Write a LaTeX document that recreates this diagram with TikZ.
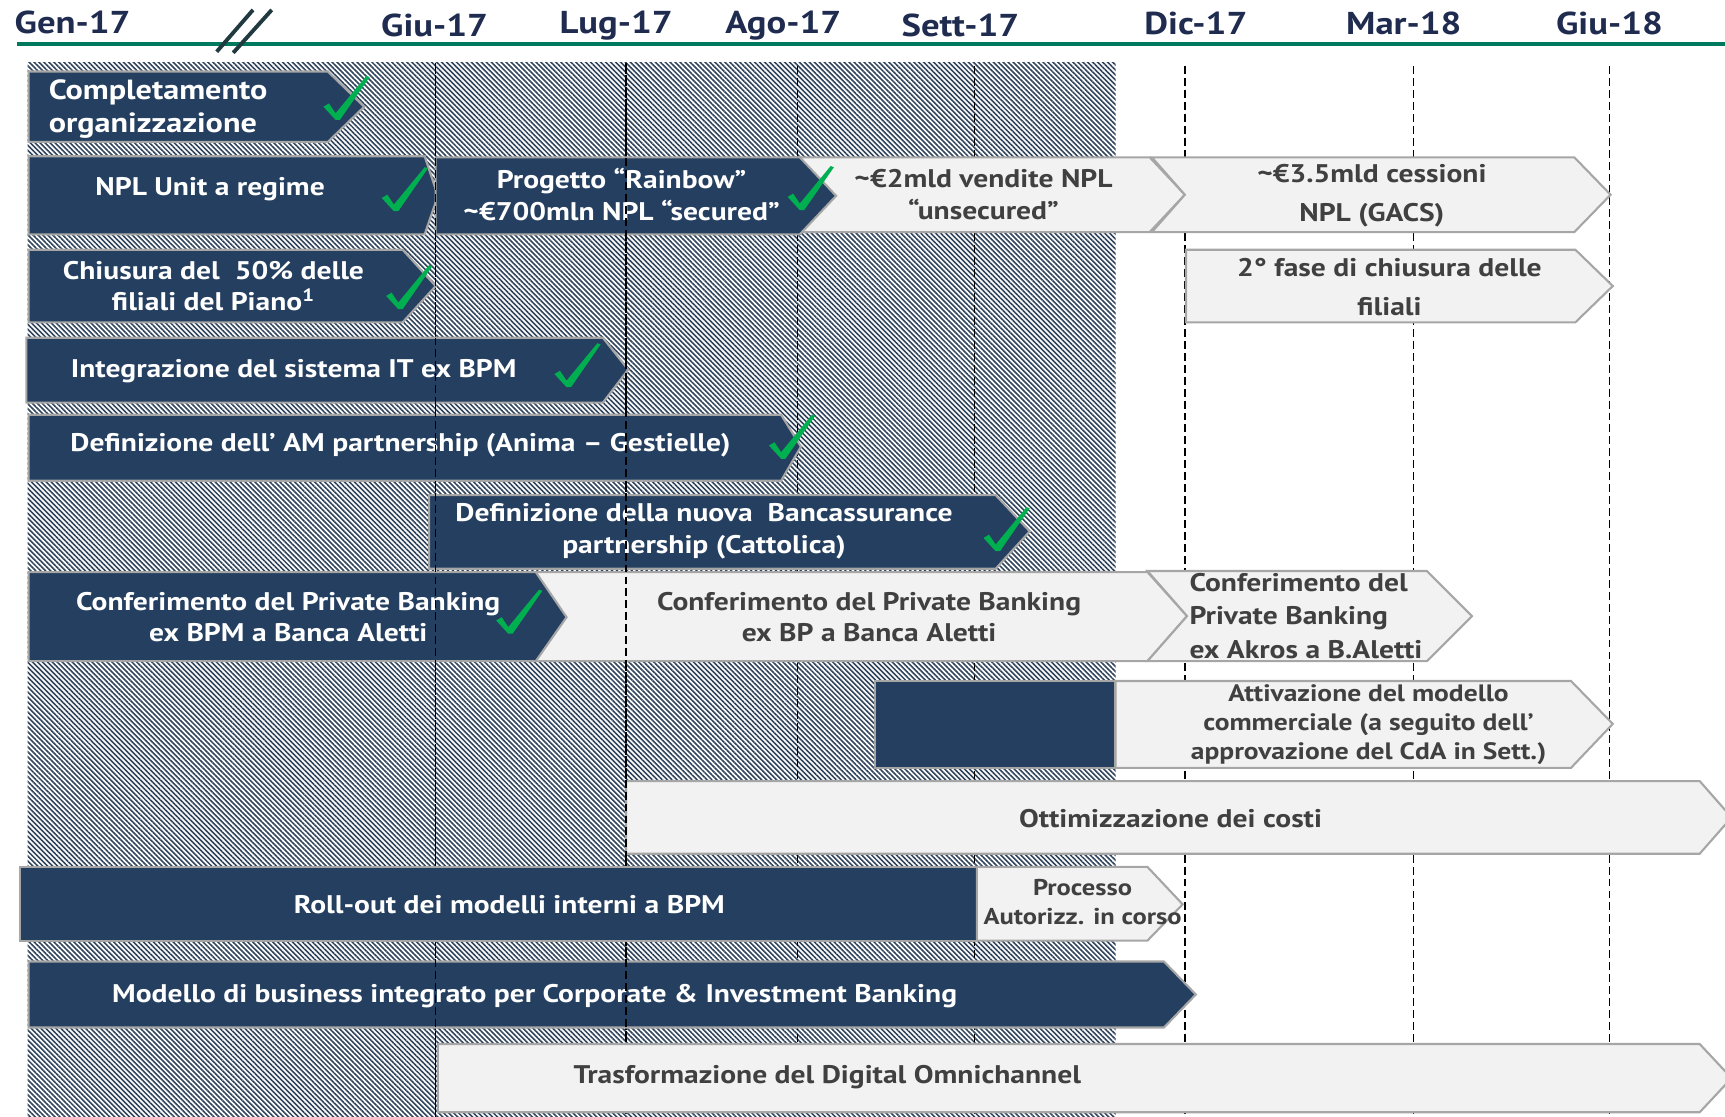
\documentclass[tikz,border=0pt]{standalone}
\usepackage{fontspec}
\setmainfont{PT Sans}[FakeStretch=1.16]
\usepackage{tikz}
\usetikzlibrary{patterns.meta}
\definecolor{navy}{HTML}{243F60}
\definecolor{headtext}{HTML}{1F2B4F}
\definecolor{rulegreen}{HTML}{007A5E}
\definecolor{okgreen}{HTML}{00B050}
\definecolor{barline}{HTML}{A6A6A6}
\definecolor{lightfill}{HTML}{F2F2F2}
\definecolor{greytext}{HTML}{404040}
\definecolor{hatch}{HTML}{30445C}
\definecolor{slashcol}{HTML}{203A40}
\tikzset{
  darkbar/.style={fill=navy, draw=barline, line width=1.2pt},
  lightbar/.style={fill=lightfill, draw=barline, line width=1.2pt},
  monthline/.style={draw=black, line width=0.8pt, dash pattern=on 4.5pt off 2.3pt},
  month/.style={text=headtext, font=\fontsize{18}{21}\selectfont\bfseries, inner sep=0pt},
  dtext/.style={text=white, font=\fontsize{14.5}{18}\selectfont\bfseries, align=center, inner sep=0pt},
  ltext/.style={text=greytext, font=\fontsize{14.5}{18}\selectfont\bfseries, align=center, inner sep=0pt},
  okmark/.pic={\fill[okgreen] (-11,-10) -- (-6,-13) -- (0,-4) -- (28,-38) -- (31,-37) -- (4,2) -- (0,2) -- cycle;}
}

\begin{document}
\begin{tikzpicture}[x=0.022cm, y=-0.022cm]
  \useasboundingbox (0,0) rectangle (1568,1015);

  % time axis
  \draw[rulegreen, line width=2.5pt] (15,40) -- (1568,40);
  \draw[slashcol, line width=2.2pt] (197,47) -- (230,9);
  \draw[slashcol, line width=2.2pt] (212,48) -- (247,9);
  \node[month] (gen17)  at (66,20)   {Gen-17};
  \node[month] (giu17)  at (395,23)  {Giu-17};
  \node[month] (lug17)  at (560,23)  {Lug-17};
  \node[month] (ago17)  at (712,23)  {Ago-17};
  \node[month] (sett17) at (873,23)  {Sett-17};
  \node[month] (dic17)  at (1087,21) {Dic-17};
  \node[month] (mar18)  at (1276,21) {Mar-18};
  \node[month] (giu18)  at (1463,21) {Giu-18};

  % period already covered
  \fill[white] (25,57) rectangle (1014,1015);
  \fill[pattern={Lines[angle=-45,distance=2pt,line width=0.9pt]}, pattern color=hatch] (25,57) rectangle (1014,1015);

  \foreach \x in {396,569,725,886,1077,1285,1463}
    \draw[monthline] (\x,60) -- (\x,1015);

  % row: organisation
  \draw[darkbar] (26,65) -- (298,65) -- (331,97) -- (298,129) -- (26,129) -- cycle;
  \node[dtext, align=left, anchor=west, font=\fontsize{15.8}{18.5}\selectfont\bfseries] (orga) at (44,99) {Completamento\\organizzazione};

  % row: NPL
  \draw[darkbar] (26,142) -- (386,142) -- (398,178) -- (386,213) -- (26,213) -- cycle;
  \node[dtext] (nplunit) at (191,172) {NPL Unit a regime};
  \draw[lightbar] (720,143) -- (1045,143) -- (1077,177) -- (1045,211) -- (720,211) -- cycle;
  \node[ltext] (unsec) at (894,177) {\textasciitilde€2mld vendite NPL\\“unsecured”};
  \draw[darkbar] (396,143) -- (727,143) -- (760,178) -- (727,213) -- (396,213) -- cycle;
  \node[dtext] (rainbow) at (565,177) {Progetto “Rainbow”\\\textasciitilde€700mln NPL “secured”};
  \draw[lightbar] (1047,143) -- (1431,143) -- (1464,177) -- (1431,211) -- (1047,211) -- (1077,177) -- cycle;
  \node[ltext, font=\fontsize{14.5}{22}\selectfont\bfseries] (gacs) at (1247,178) {\textasciitilde€3.5mld cessioni\\NPL (GACS)};

  % row: branches
  \draw[darkbar] (26,227) -- (366,227) -- (396,260) -- (366,293) -- (26,293) -- cycle;
  \node[dtext] (filiali) at (194,260) {Chiusura del \ 50\% delle\\filiali del Piano\textsuperscript{1}};
  \draw[lightbar] (1078,227) -- (1432,227) -- (1466,260) -- (1432,293) -- (1078,293) -- cycle;
  \node[ltext, font=\fontsize{14.5}{22}\selectfont\bfseries] (fase2) at (1263,261) {2° fase di chiusura delle\\filiali};

  % row: IT
  \draw[darkbar] (24,307) -- (548,307) -- (571,336) -- (548,366) -- (24,366) -- cycle;
  \node[dtext] (itbpm) at (267,337) {Integrazione del sistema IT ex BPM};

  % row: AM
  \draw[darkbar] (26,377) -- (710,377) -- (728,406) -- (710,437) -- (26,437) -- cycle;
  \node[dtext] (anima) at (364,405) {Definizione dell’ AM partnership (Anima – Gestielle)};

  % row: bancassurance
  \draw[darkbar] (390,450) -- (905,450) -- (936,483) -- (905,517) -- (390,517) -- cycle;
  \node[dtext] (cattolica) at (640,483) {Definizione della nuova \ Bancassurance\\partnership (Cattolica)};

  % row: private banking
  \draw[lightbar] (480,520) -- (1043,520) -- (1079,560) -- (1043,601) -- (480,601) -- cycle;
  \node[ltext] (pbbp) at (790,561) {Conferimento del Private Banking\\ex BP a Banca Aletti};
  \draw[darkbar] (26,520) -- (487,520) -- (515,561) -- (487,601) -- (26,601) -- cycle;
  \node[dtext] (pbbpm) at (262,561) {Conferimento del Private Banking\\ex BPM a Banca Aletti};
  \draw[lightbar] (1043,519) -- (1297,519) -- (1338,560) -- (1297,601) -- (1043,601) -- (1079,560) -- cycle;
  \node[ltext, align=left, anchor=west, font=\fontsize{14.5}{19}\selectfont\bfseries] (akros) at (1081,560) {Conferimento del\\ Private Banking\\ ex Akros a B.Aletti};

  % row: commercial model
  \draw[darkbar] (795,619) rectangle (1014,698);
  \draw[lightbar] (1014,619) -- (1428,619) -- (1466,658) -- (1428,698) -- (1014,698) -- cycle;
  \node[ltext, font=\fontsize{13.5}{16.5}\selectfont\bfseries] (attiv) at (1244,659) {Attivazione del modello\\commerciale (a seguito dell’\\approvazione del CdA in Sett.)};

  % row: costs
  \draw[lightbar] (569,710) -- (1545,710) -- (1574,743) -- (1545,776) -- (569,776) -- cycle;
  \node[ltext] (costi) at (1064,744) {Ottimizzazione dei costi};

  % row: corporate & investment banking
  \draw[darkbar] (26,874) -- (1058,874) -- (1087,904) -- (1058,934) -- (26,934) -- cycle;
  \node[dtext] (cib) at (486,905) {Modello di business integrato per Corporate \& Investment Banking};

  % row: digital
  \draw[lightbar] (398,949) -- (1545,949) -- (1574,980) -- (1545,1011) -- (398,1011) -- cycle;
  \node[ltext] (digital) at (752,979) {Trasformazione del Digital Omnichannel};

  % month lines that stay visible over the bars
  \foreach \x in {396,569}
    \draw[monthline] (\x,57) -- (\x,945);
  \draw[monthline] (396,945) -- (396,1015);

  % row: internal models
  \draw[darkbar] (18,788) rectangle (888,855);
  \node[dtext] (rollout) at (463,822) {Roll-out dei modelli interni a BPM};
  \draw[lightbar] (888,788) -- (1043,788) -- (1075,822) -- (1043,855) -- (888,855) -- cycle;
  \node[ltext, font=\fontsize{13}{16.5}\selectfont\bfseries] (autorizz) at (984,820) {Processo\\Autorizz. in corso};

  % done
  \pic at (305,107) {okmark};
  \pic at (358,190) {okmark};
  \pic at (727,189) {okmark};
  \pic at (362,279) {okmark};
  \pic at (515,350) {okmark};
  \pic at (710,415) {okmark};
  \pic at (905,499) {okmark};
  \pic at (462,574) {okmark};
\end{tikzpicture}
\end{document}
